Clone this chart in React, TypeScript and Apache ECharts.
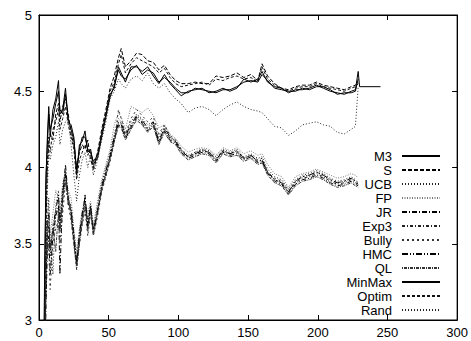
import React, { useEffect, useRef } from "react";
import * as echarts from "echarts";

const xs = [
  1, 3, 4, 5, 6, 7, 8, 10, 12, 14,
  15, 17, 19, 21, 23, 25, 27, 29, 31, 33,
  35, 37, 39, 42, 45, 48, 51, 54, 57, 59,
  62, 66, 70, 74, 78, 82, 86, 90, 94, 98,
  102, 107, 112, 117, 122, 127, 132, 137, 142, 147,
  152, 157, 160, 164, 169, 174, 179, 184, 189, 194,
  199, 204, 209, 214, 219, 224, 227, 229,
  230, 245,
];

const m3 = [
  1.5, 2.0, 3.2, 3.9, 4.2, 4.40, 4.20, 4.38, 4.45, 4.57,
  4.35, 4.38, 4.52, 4.30, 4.28, 4.20, 3.95, 4.15, 4.17, 4.24,
  4.10, 4.12, 4.02, 4.06, 4.20, 4.33, 4.48, 4.52, 4.66, 4.62,
  4.56, 4.66, 4.66, 4.63, 4.66, 4.60, 4.55, 4.61, 4.55, 4.51,
  4.47, 4.50, 4.51, 4.52, 4.49, 4.50, 4.52, 4.50, 4.52, 4.58,
  4.56, 4.58, 4.63, 4.56, 4.53, 4.52, 4.49, 4.51, 4.51, 4.52,
  4.54, 4.52, 4.50, 4.49, 4.48, 4.50, 4.51, 4.63,
  4.53, 4.53,
];
const s = [
  1.5, 1.8, 2.9, 3.6, 4.0, 4.15, 4.22, 4.18, 4.35, 4.42,
  4.30, 4.40, 4.45, 4.35, 4.22, 4.15, 4.00, 4.10, 4.15, 4.12,
  4.18, 4.05, 4.00, 4.10, 4.25, 4.38, 4.52, 4.60, 4.72, 4.78,
  4.66, 4.70, 4.75, 4.74, 4.70, 4.69, 4.64, 4.67, 4.61, 4.57,
  4.55, 4.55, 4.56, 4.55, 4.55, 4.60, 4.59, 4.60, 4.62, 4.59,
  4.61, 4.57, 4.68, 4.60, 4.55, 4.52, 4.51, 4.53, 4.54, 4.54,
  4.56, 4.54, 4.53, 4.52, 4.51, 4.53, 4.54, 4.56,
  null, null,
];
const ucb = [
  1.5, 1.8, 2.7, 3.3, 3.6, 3.8, 3.5, 3.3, 3.75, 3.85,
  3.65, 3.88, 3.98, 3.78, 3.75, 3.58, 3.40, 3.58, 3.70, 3.76,
  3.66, 3.76, 3.60, 3.75, 3.90, 4.00, 4.10, 4.22, 4.32, 4.30,
  4.22, 4.30, 4.35, 4.32, 4.28, 4.30, 4.20, 4.27, 4.20, 4.18,
  4.12, 4.08, 4.10, 4.12, 4.11, 4.07, 4.12, 4.10, 4.12, 4.07,
  4.09, 4.06, 4.07, 3.99, 3.94, 3.92, 3.86, 3.92, 3.95, 3.96,
  3.98, 3.96, 3.93, 3.91, 3.92, 3.94, 3.92, 3.90,
  null, null,
];
const fp = [
  1.5, 1.9, 2.8, 3.4, 3.7, 3.75, 3.55, 3.7, 3.85, 3.8,
  3.7, 3.9, 3.95, 3.85, 3.8, 3.6, 3.45, 3.6, 3.72, 3.78,
  3.7, 3.78, 3.62, 3.78, 3.92, 4.02, 4.12, 4.28, 4.36, 4.33,
  4.25, 4.40, 4.38, 4.36, 4.39, 4.34, 4.26, 4.28, 4.22, 4.19,
  4.14, 4.10, 4.12, 4.13, 4.12, 4.08, 4.13, 4.11, 4.13, 4.09,
  4.11, 4.08, 4.09, 4.02, 3.96, 3.94, 3.87, 3.94, 3.96, 3.97,
  3.99, 3.97, 3.95, 3.93, 3.94, 3.96, 3.95, 3.93,
  null, null,
];
const jr = [
  1.5, 1.7, 2.5, 3.1, 3.45, 3.55, 3.3, 3.55, 3.68, 3.75,
  3.3, 3.82, 4.02, 3.8, 3.7, 3.52, 3.36, 3.52, 3.66, 3.82,
  3.6, 3.74, 3.57, 3.7, 3.86, 3.96, 4.06, 4.18, 4.28, 4.27,
  4.19, 4.26, 4.33, 4.29, 4.24, 4.28, 4.16, 4.24, 4.18, 4.16,
  4.10, 4.06, 4.08, 4.10, 4.09, 4.04, 4.10, 4.08, 4.09, 4.05,
  4.07, 4.03, 4.04, 3.96, 3.91, 3.89, 3.83, 3.89, 3.92, 3.93,
  3.95, 3.93, 3.90, 3.88, 3.89, 3.91, 3.89, 3.88,
  null, null,
];
const exp3 = [
  1.5, 1.8, 2.6, 3.2, 3.55, 3.62, 3.42, 3.62, 3.72, 3.7,
  3.62, 3.8, 3.95, 3.82, 3.72, 3.56, 3.38, 3.55, 3.66, 3.78,
  3.63, 3.74, 3.59, 3.72, 3.87, 3.97, 4.07, 4.19, 4.29, 4.28,
  4.20, 4.27, 4.32, 4.30, 4.25, 4.29, 4.18, 4.25, 4.19, 4.17,
  4.11, 4.07, 4.09, 4.11, 4.10, 4.05, 4.11, 4.09, 4.10, 4.06,
  4.08, 4.04, 4.05, 3.97, 3.92, 3.90, 3.84, 3.90, 3.93, 3.94,
  3.96, 3.94, 3.91, 3.89, 3.90, 3.92, 3.90, 3.89,
  null, null,
];
const bully = [
  1.5, 2.0, 2.9, 3.3, 3.5, 3.45, 3.2, 3.5, 3.6, 3.65,
  3.5, 3.7, 3.9, 3.75, 3.65, 3.5, 3.35, 3.5, 3.62, 3.72,
  3.55, 3.7, 3.55, 3.68, 3.84, 3.94, 4.04, 4.16, 4.38, 4.32,
  4.22, 4.32, 4.38, 4.34, 4.30, 4.33, 4.22, 4.28, 4.21, 4.18,
  4.12, 4.07, 4.10, 4.12, 4.10, 4.06, 4.11, 4.09, 4.11, 4.06,
  4.08, 4.05, 4.06, 3.97, 3.93, 3.91, 3.85, 3.91, 3.94, 3.95,
  3.97, 3.95, 3.92, 3.90, 3.91, 3.93, 3.91, 3.89,
  null, null,
];
const hmc = [
  1.5, 1.7, 2.6, 3.25, 3.6, 3.7, 3.45, 3.58, 3.72, 3.82,
  3.6, 3.84, 3.96, 3.76, 3.72, 3.55, 3.37, 3.56, 3.7, 3.8,
  3.62, 3.75, 3.58, 3.72, 3.88, 3.98, 4.08, 4.2, 4.3, 4.29,
  4.21, 4.28, 4.34, 4.31, 4.26, 4.30, 4.17, 4.26, 4.20, 4.17,
  4.11, 4.07, 4.09, 4.11, 4.10, 4.05, 4.11, 4.09, 4.11, 4.06,
  4.08, 4.04, 4.05, 3.97, 3.92, 3.90, 3.84, 3.91, 3.94, 3.95,
  3.97, 3.95, 3.92, 3.90, 3.91, 3.93, 3.91, 3.90,
  null, null,
];
const ql = [
  1.5, 1.9, 2.7, 3.35, 3.65, 3.68, 3.48, 3.6, 3.45, 3.72,
  3.58, 3.78, 3.92, 3.8, 3.68, 3.5, 3.33, 3.5, 3.64, 3.74,
  3.58, 3.72, 3.56, 3.7, 3.85, 3.95, 4.05, 4.17, 4.27, 4.26,
  4.18, 4.25, 4.31, 4.28, 4.23, 4.27, 4.15, 4.23, 4.17, 4.15,
  4.09, 4.05, 4.07, 4.09, 4.08, 4.03, 4.09, 4.07, 4.08, 4.04,
  4.06, 4.02, 4.03, 3.95, 3.90, 3.88, 3.82, 3.88, 3.91, 3.92,
  3.94, 3.92, 3.89, 3.87, 3.88, 3.90, 3.88, 3.87,
  null, null,
];
const minmax = [
  1.5, 2.1, 3.3, 3.95, 4.15, 4.35, 4.25, 4.32, 4.42, 4.50,
  4.38, 4.35, 4.48, 4.32, 4.25, 4.18, 3.98, 4.12, 4.20, 4.20,
  4.12, 4.10, 4.04, 4.08, 4.22, 4.35, 4.46, 4.54, 4.64, 4.60,
  4.58, 4.64, 4.67, 4.61, 4.64, 4.62, 4.56, 4.59, 4.56, 4.52,
  4.49, 4.49, 4.52, 4.51, 4.50, 4.49, 4.51, 4.51, 4.53, 4.56,
  4.57, 4.56, 4.61, 4.57, 4.52, 4.51, 4.50, 4.50, 4.52, 4.51,
  4.53, 4.53, 4.51, 4.48, 4.49, 4.49, 4.50, 4.58,
  null, null,
];
const optim = [
  1.5, 1.9, 3.0, 3.7, 4.05, 4.2, 4.1, 4.25, 4.3, 4.38,
  4.25, 4.32, 4.40, 4.28, 4.2, 4.12, 3.92, 4.05, 4.1, 4.15,
  4.08, 4.12, 3.98, 4.08, 4.22, 4.36, 4.50, 4.56, 4.68, 4.74,
  4.62, 4.68, 4.72, 4.70, 4.68, 4.66, 4.62, 4.65, 4.59, 4.55,
  4.53, 4.54, 4.55, 4.56, 4.54, 4.58, 4.57, 4.59, 4.60, 4.58,
  4.59, 4.56, 4.66, 4.58, 4.54, 4.52, 4.50, 4.52, 4.53, 4.53,
  4.55, 4.53, 4.52, 4.51, 4.50, 4.52, 4.53, 4.55,
  null, null,
];
const rand = [
  1.5, 2.2, 3.0, 3.5, 3.85, 4.10, 4.05, 4.15, 4.20, 4.30,
  4.15, 4.25, 4.30, 4.32, 4.15, 3.95, 3.78, 3.95, 4.05, 4.10,
  4.00, 4.08, 3.95, 4.05, 4.18, 4.30, 4.45, 4.50, 4.58, 4.55,
  4.52, 4.58, 4.60, 4.57, 4.62, 4.55, 4.52, 4.55, 4.49, 4.45,
  4.42, 4.36, 4.39, 4.40, 4.38, 4.34, 4.38, 4.41, 4.43, 4.40,
  4.38, 4.37, 4.36, 4.32, 4.27, 4.26, 4.21, 4.24, 4.28, 4.29,
  4.30, 4.28, 4.27, 4.23, 4.22, 4.25, 4.27, 4.53,
  null, null,
];

const seriesNames = ["M3", "S", "UCB", "FP", "JR", "Exp3", "Bully", "HMC", "QL", "MinMax", "Optim", "Rand"];
const seriesValues = [m3, s, ucb, fp, jr, exp3, bully, hmc, ql, minmax, optim, rand];
const xTicks = { min: 0, max: 300, interval: 50 };
const yTicks = { min: 3, max: 5, interval: 0.5 };

const dashes: any[] = [
  "solid",
  [4, 2],
  [1, 2],
  [1, 1.5],
  [5, 2, 1, 2],
  [3, 2, 1, 2],
  [2, 3],
  [6, 2, 1, 2, 1, 2],
  [1, 1, 3, 1],
  "solid",
  [3, 2],
  [1, 2],
];
const colors = ["#000", "#000", "#222", "#777", "#000", "#222", "#333", "#000", "#333", "#000", "#111", "#222"];

const FONT = "Liberation Sans, Arial, Helvetica, sans-serif";

export default function App() {
  const ref = useRef<HTMLDivElement>(null);
  useEffect(() => {
    if (!ref.current) return;
    const chart = echarts.init(ref.current, undefined, { renderer: "svg" });
    const axisCommon = {
      type: "value" as const,
      axisLine: { show: true, onZero: false, lineStyle: { color: "#000", width: 1 } },
      axisTick: { show: true, inside: true, length: 5, lineStyle: { color: "#000" } },
      splitLine: { show: false },
    };
    const option: any = {
      animation: false,
      backgroundColor: "#fff",
      grid: { left: 39, right: 12, top: 15, bottom: 21, show: true, borderColor: "#000", borderWidth: 1, backgroundColor: "transparent" },
      xAxis: [
        {
          ...axisCommon,
          ...xTicks,
          position: "bottom",
          axisLabel: { color: "#000", fontSize: 13, fontFamily: FONT, margin: 6 },
        },
        {
          ...axisCommon,
          ...xTicks,
          position: "top",
          axisLabel: { show: false },
        },
      ],
      yAxis: [
        {
          ...axisCommon,
          ...yTicks,
          position: "left",
          axisLabel: { color: "#000", fontSize: 13, fontFamily: FONT, margin: 7 },
        },
        {
          ...axisCommon,
          ...yTicks,
          position: "right",
          axisLabel: { show: false },
        },
      ],
      legend: {
        orient: "vertical",
        right: 30,
        top: 149,
        align: "right",
        itemWidth: 38,
        itemHeight: 14,
        itemGap: 0,
        padding: 0,
        itemStyle: { opacity: 0, borderWidth: 0 },
        textStyle: { color: "#000", fontSize: 13, fontFamily: FONT, lineHeight: 14, padding: [0, 5, 0, 0] },
        data: seriesNames,
      },
      series: seriesNames.map((name, k) => ({
        name,
        type: "line",
        xAxisIndex: 0,
        yAxisIndex: 0,
        symbol: "none",
        clip: true,
        connectNulls: false,
        lineStyle: { color: colors[k], width: 1, type: dashes[k] },
        itemStyle: { color: colors[k] },
        data: xs
          .map((x, i) => [x, seriesValues[k][i]])
          .filter((p) => p[1] !== null && p[1] !== undefined),
      })),
    };
    chart.setOption(option);
    return () => chart.dispose();
  }, []);
  return (
    <div
      ref={ref}
      style={{ position: "fixed", left: 0, top: 0, width: 471, height: 341, background: "#fff" }}
    />
  );
}
